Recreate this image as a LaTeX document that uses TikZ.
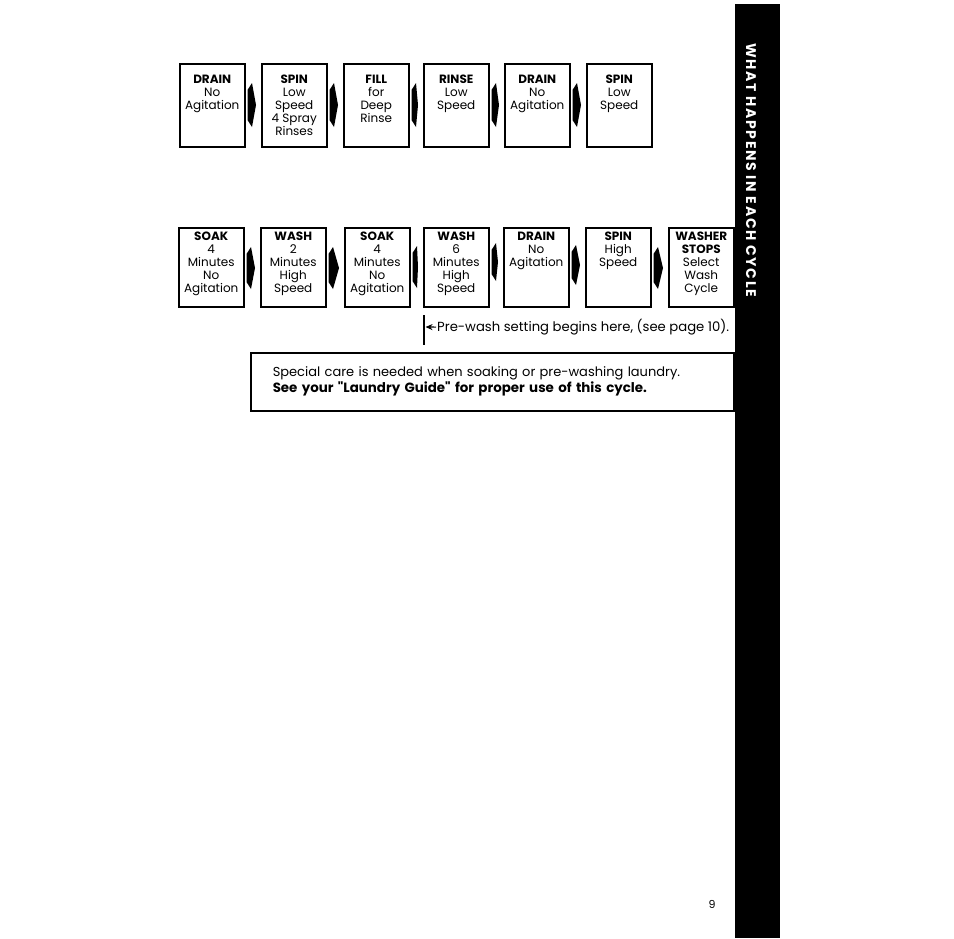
\documentclass[tikz,border=0pt]{standalone}
\usepackage{fontspec}
\setmainfont{Poppins}[Ligatures=TeXOff]
\usetikzlibrary{calc,arrows.meta}
\newcommand\rowA[1]{\parbox[c][83pt][t]{63pt}{\centering\vspace*{11pt}#1}}
\newcommand\rowB[1]{\parbox[c][79pt][t]{63pt}{\centering\vspace*{4pt}#1}}
% chevron between two boxes: left node, right node, centre y (px), half height (px)
\newcommand\chev[4]{%
  \fill let \p1=(#1.east), \p2=(#2.west) in
    (\x1+2pt,{-(#3-#4+7)*1pt}) -- (\x1+6.5pt,{-(#3-#4)*1pt}) --
    (\x2-5pt,{-(#3)*1pt}) -- (\x1+6.5pt,{-(#3+#4)*1pt}) --
    (\x1+2pt,{-(#3+#4-7)*1pt}) -- cycle;}
\tikzset{
  stepbox/.style={draw, line width=1.5pt, inner sep=0pt, anchor=north west,
    minimum width=65pt, font=\fontsize{12}{13}\selectfont},
  boxA/.style={stepbox, minimum height=83pt},
  boxB/.style={stepbox, minimum height=79pt},
}
\begin{document}
\begin{tikzpicture}[x=1pt,y=-1pt]
\useasboundingbox (0,0) rectangle (954,938);
% side bar
\fill (735,4) rectangle (780,938);
\node[rotate=-90, text=white, inner sep=0pt,
  font=\fontsize{14}{15}\selectfont\bfseries\addfontfeatures{LetterSpace=12}] (bartitle) at (751,170) {WHAT HAPPENS IN EACH CYCLE};
% row 1
\node[boxA] (a1) at (179,63) {\rowA{\textbf{DRAIN}\\No\\Agitation}};
\node[boxA] (a2) at (261,63) {\rowA{\textbf{SPIN}\\Low\\Speed\\4 Spray\\Rinses}};
\node[boxA] (a3) at (343,63) {\rowA{\textbf{FILL}\\for\\Deep\\Rinse}};
\node[boxA] (a4) at (423,63) {\rowA{\textbf{RINSE}\\Low\\Speed}};
\node[boxA] (a5) at (504,63) {\rowA{\textbf{DRAIN}\\No\\Agitation}};
\node[boxA] (a6) at (586,63) {\rowA{\textbf{SPIN}\\Low\\Speed}};
\chev{a1}{a2}{105}{22}
\chev{a2}{a3}{105}{22}
\chev{a3}{a4}{105}{22}
\chev{a4}{a5}{105}{22}
\chev{a5}{a6}{105}{22}
% row 2
\node[boxB] (b1) at (178,227) {\rowB{\textbf{SOAK}\\4\\Minutes\\No\\Agitation}};
\node[boxB] (b2) at (260,227) {\rowB{\textbf{WASH}\\2\\Minutes\\High\\Speed}};
\node[boxB] (b3) at (344,227) {\rowB{\textbf{SOAK}\\4\\Minutes\\No\\Agitation}};
\node[boxB] (b4) at (423,227) {\rowB{\textbf{WASH}\\6\\Minutes\\High\\Speed}};
\node[boxB] (b5) at (503,227) {\rowB{\textbf{DRAIN}\\No\\Agitation}};
\node[boxB] (b6) at (585,227) {\rowB{\textbf{SPIN}\\High\\Speed}};
\node[boxB] (b7) at (668,227) {\rowB{\textbf{WASHER}\\\textbf{STOPS}\\Select\\Wash\\Cycle}};
\chev{b1}{b2}{268}{21}
\chev{b2}{b3}{268}{21}
\chev{b3}{b4}{267}{21}
\chev{b4}{b5}{262}{19}
\chev{b5}{b6}{265}{20}
\chev{b6}{b7}{268}{21}
% pre-wash marker
\coordinate (pwtop) at (424,315);
\coordinate (pwbot) at (424,345);
\coordinate (pwtip) at (425.5,327);
\draw[line width=1.2pt] (pwtop) -- (pwbot);
\node[anchor=base west, inner sep=0pt, font=\fontsize{13.2}{15}\selectfont] (pwtext) at (437,331.5) {Pre-wash setting begins here, (see page 10).};
\draw[line width=1.2pt, -{Stealth[length=7pt,width=6pt]}] ([xshift=-1pt]pwtext.west) -- (pwtip);
% note
\node[draw, line width=1.5pt, anchor=north west, minimum height=58pt, text width=439pt,
  inner xsep=22pt, inner ysep=0pt, align=left, font=\fontsize{13}{16}\selectfont] (note) at (250,352)
  {Special care is needed when soaking or pre-washing laundry.\\{\fontsize{13.4}{16}\selectfont\bfseries See your "Laundry Guide" for proper use of this cycle.}};
% page number
\node[font=\fontsize{11}{12}\selectfont] (pgnum) at (712,904) {9};
\end{tikzpicture}
\end{document}
